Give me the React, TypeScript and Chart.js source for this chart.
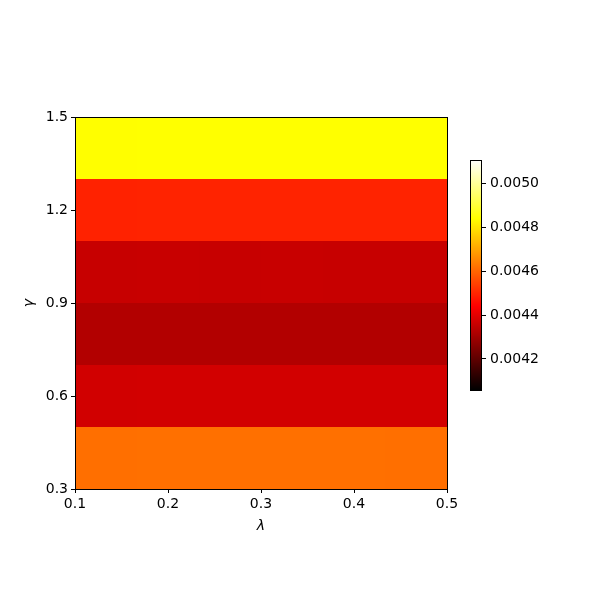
import React, { useEffect, useRef } from 'react';
import { Chart, registerables } from 'chart.js';
Chart.register(...registerables);

// Heatmap grid (extent lambda 0.1..0.5, gamma 0.3..1.5)
const lambdaEdges = [0.1, 0.16667, 0.23333, 0.3, 0.36667, 0.43333, 0.5];
const gammaEdges = [0.3, 0.5, 0.7, 0.9, 1.1, 1.3, 1.5];
// values per gamma band, one per lambda column
const rowGamma04 = [0.004614, 0.004616, 0.004616, 0.004616, 0.004616, 0.004615];
const rowGamma06 = [0.004372, 0.004373, 0.004374, 0.004374, 0.004374, 0.004373];
const rowGamma08 = [0.004325, 0.004326, 0.004326, 0.004326, 0.004326, 0.004326];
const rowGamma10 = [0.004357, 0.004358, 0.004357, 0.004358, 0.004357, 0.004357];
const rowGamma12 = [0.004494, 0.004496, 0.004496, 0.004496, 0.004495, 0.004496];
const rowGamma14 = [0.004838, 0.004839, 0.004839, 0.004839, 0.004839, 0.004839];
const rows = [rowGamma04, rowGamma06, rowGamma08, rowGamma10, rowGamma12, rowGamma14];

const xTicks = [0.1, 0.2, 0.3, 0.4, 0.5];
const yTicks = [0.3, 0.6, 0.9, 1.2, 1.5];
const cbTicks = [0.0042, 0.0044, 0.0046, 0.0048, 0.005];
const cbMin = 0.004059;
const cbMax = 0.005105;

const FONT = 'DejaVu Sans';

function hot(t: number): string {
  const x = Math.min(1, Math.max(0, t));
  const r = Math.min(1, x / 0.365079);
  const g = Math.min(1, Math.max(0, (x - 0.365079) / (0.746032 - 0.365079)));
  const b = Math.min(1, Math.max(0, (x - 0.746032) / (1 - 0.746032)));
  return `rgb(${Math.round(r * 255)},${Math.round(g * 255)},${Math.round(b * 255)})`;
}
const norm = (v: number) => (v - cbMin) / (cbMax - cbMin);

const heatPlugin = {
  id: 'heat',
  beforeDatasetsDraw(chart: any) {
    const { ctx, scales } = chart;
    const xs = scales.x, ys = scales.y;
    ctx.save();
    for (let i = 0; i < rows.length; i++) {
      for (let j = 0; j < rows[i].length; j++) {
        const x0 = Math.round(xs.getPixelForValue(lambdaEdges[j]));
        const x1 = Math.round(xs.getPixelForValue(lambdaEdges[j + 1]));
        const y0 = Math.round(ys.getPixelForValue(gammaEdges[i + 1]));
        const y1 = Math.round(ys.getPixelForValue(gammaEdges[i]));
        ctx.fillStyle = hot(norm(rows[i][j]));
        ctx.fillRect(x0, y0, x1 - x0, y1 - y0);
      }
    }
    ctx.restore();
  },
  afterDraw(chart: any) {
    const { ctx, chartArea } = chart;
    ctx.save();
    ctx.strokeStyle = '#000';
    ctx.lineWidth = 1;
    const l = Math.floor(chartArea.left) + 0.5;
    const r = Math.floor(chartArea.right) + 0.5;
    const t = Math.floor(chartArea.top) + 0.5;
    const b = Math.floor(chartArea.bottom) + 0.5;
    ctx.strokeRect(l, t, r - l, b - t);
    ctx.restore();
  },
};

const cbPlugin = {
  id: 'cbar',
  beforeDatasetsDraw(chart: any) {
    const { ctx, chartArea, scales } = chart;
    const ys = scales.y;
    ctx.save();
    const top = Math.round(chartArea.top);
    const bottom = Math.round(chartArea.bottom);
    const left = Math.round(chartArea.left);
    const right = Math.round(chartArea.right);
    for (let py = top; py < bottom; py++) {
      const v = ys.getValueForPixel(py + 0.5);
      ctx.fillStyle = hot(norm(v));
      ctx.fillRect(left, py, right - left, 1);
    }
    ctx.strokeStyle = '#000';
    ctx.lineWidth = 1;
    ctx.strokeRect(left + 0.5, top + 0.5, right - left - 1, bottom - top);
    ctx.restore();
  },
};

export default function App() {
  const mainRef = useRef<HTMLCanvasElement>(null);
  const cbRef = useRef<HTMLCanvasElement>(null);

  useEffect(() => {
    Chart.defaults.font.family = FONT;
    Chart.defaults.font.size = 14;
    Chart.defaults.color = '#000';

    const cellPoints: any[] = [];
    rows.forEach((row, i) =>
      row.forEach((v, j) =>
        cellPoints.push({
          x: (lambdaEdges[j] + lambdaEdges[j + 1]) / 2,
          y: (gammaEdges[i] + gammaEdges[i + 1]) / 2,
          v,
        })
      )
    );

    const main = new Chart(mainRef.current!, {
      type: 'scatter',
      data: { datasets: [{ data: cellPoints, pointRadius: 0, pointHoverRadius: 0 }] },
      options: {
        responsive: false,
        animation: false,
        devicePixelRatio: 1,
        events: [],
        layout: { padding: { left: 0, top: 117, right: 153, bottom: 0 } },
        plugins: { legend: { display: false }, tooltip: { enabled: false } },
        scales: {
          x: {
            type: 'linear',
            min: lambdaEdges[0],
            max: lambdaEdges[lambdaEdges.length - 1],
            afterBuildTicks: (s: any) => { s.ticks = xTicks.map((v) => ({ value: v })); },
            afterFit: (s: any) => { s.height = 111; s.paddingLeft = 0; s.paddingRight = 0; },
            ticks: { callback: (v: any) => Number(v).toFixed(1), padding: 3, maxRotation: 0, autoSkip: false, font: { size: 14 } },
            grid: { display: true, drawOnChartArea: false, drawTicks: true, tickLength: 4, color: '#000', lineWidth: 1 },
            border: { display: false },
            title: { display: true, text: 'λ', font: { family: FONT, size: 14, style: 'italic' }, padding: { top: 65.6, bottom: 65.6 } },
          },
          y: {
            type: 'linear',
            min: gammaEdges[0],
            max: gammaEdges[gammaEdges.length - 1],
            afterBuildTicks: (s: any) => { s.ticks = yTicks.map((v) => ({ value: v })); },
            afterFit: (s: any) => { s.width = 75; s.paddingTop = 0; s.paddingBottom = 0; },
            ticks: { callback: (v: any) => Number(v).toFixed(1), padding: 3, autoSkip: false, font: { size: 14 } },
            grid: { display: true, drawOnChartArea: false, drawTicks: true, tickLength: 4, color: '#000', lineWidth: 1 },
            border: { display: false },
            title: { display: true, text: 'γ', font: { family: FONT, size: 14, style: 'italic' }, padding: { top: 20.6, bottom: 20.6 } },
          },
        },
      },
      plugins: [heatPlugin],
    } as any);

    const cb = new Chart(cbRef.current!, {
      type: 'scatter',
      data: { datasets: [{ data: [], pointRadius: 0 }] },
      options: {
        responsive: false,
        animation: false,
        devicePixelRatio: 1,
        events: [],
        layout: { padding: { left: 470, top: 160, right: 0, bottom: 210 } },
        plugins: { legend: { display: false }, tooltip: { enabled: false } },
        scales: {
          x: { type: 'linear', display: false, min: 0, max: 1 },
          y: {
            type: 'linear',
            position: 'right',
            min: cbMin,
            max: cbMax,
            afterBuildTicks: (s: any) => { s.ticks = cbTicks.map((v) => ({ value: v })); },
            afterFit: (s: any) => { s.width = 118; s.paddingTop = 0; s.paddingBottom = 0; },
            ticks: { callback: (v: any) => Number(v).toFixed(4), padding: 4, autoSkip: false, font: { size: 14 } },
            grid: { display: true, drawOnChartArea: false, drawTicks: true, tickLength: 4, color: '#000', lineWidth: 1 },
            border: { display: false },
          },
        },
      },
      plugins: [cbPlugin],
    } as any);

    return () => {
      main.destroy();
      cb.destroy();
    };
  }, []);

  return (
    <div style={{ position: 'absolute', left: 0, top: 0, width: 600, height: 600, background: '#fff' }}>
      <canvas ref={mainRef} width={600} height={600} style={{ position: 'absolute', left: 0, top: 0 }} />
      <canvas ref={cbRef} width={600} height={600} style={{ position: 'absolute', left: 0, top: 0 }} />
    </div>
  );
}
